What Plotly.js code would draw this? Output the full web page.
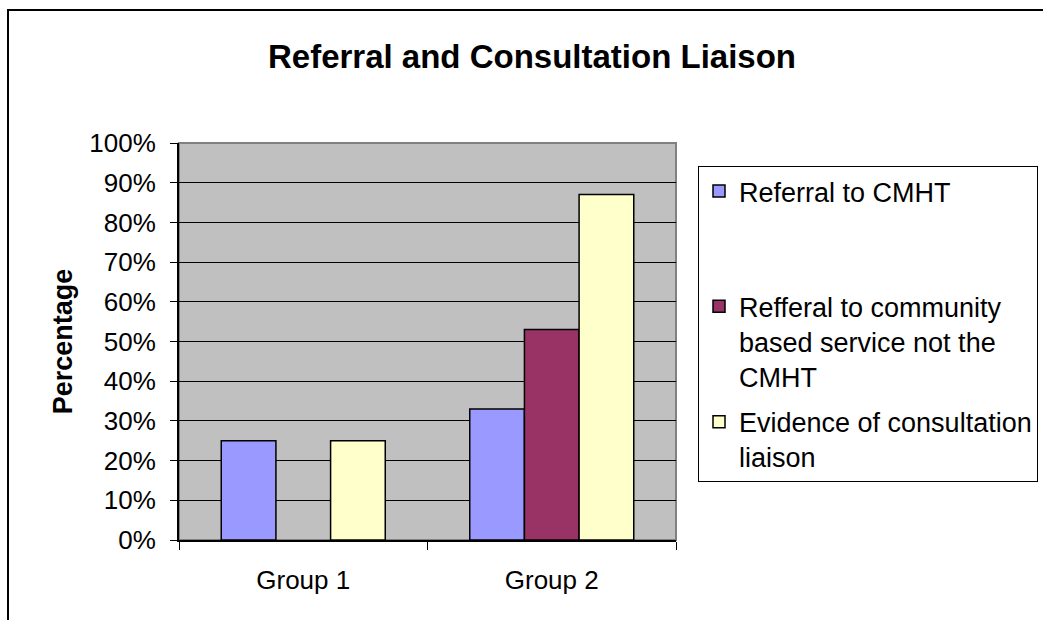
<!DOCTYPE html>
<html>
<head>
<meta charset="utf-8">
<script src="https://cdn.plot.ly/plotly-3.0.1.min.js"></script>
<style>
  html, body { margin: 0; padding: 0; background: #ffffff; }
  #chart { width: 1043px; height: 620px; }
</style>
</head>
<body>
<div id="chart"></div>
<script>
const categories = ["Group 1", "Group 2"];
const seriesNames = [
  "Referral to CMHT<br>&nbsp;<br>&nbsp;",
  "Refferal to community<br>based service not the<br>CMHT",
  "Evidence of consultation<br>liaison"
];
const referralCMHT = [25, 33];
const referralCommunity = [null, 53];
const consultationLiaison = [25, 87];
const seriesColors = ["#9999FF", "#993366", "#FFFFCC"];
const yTickValues = [0, 10, 20, 30, 40, 50, 60, 70, 80, 90, 100];
const yTickLabels = ["0%", "10%", "20%", "30%", "40%", "50%", "60%", "70%", "80%", "90%", "100%"];

const FONT = "Liberation Sans, Arial, sans-serif";
const seriesValues = [referralCMHT, referralCommunity, consultationLiaison];

const traces = seriesValues.map((vals, i) => ({
  type: "bar",
  name: seriesNames[i],
  x: categories,
  y: vals,
  legendgroup: "g" + i,
  marker: { color: seriesColors[i], line: { color: "#000000", width: 1.5 } },
  hoverinfo: "skip"
}));

const layout = {
  width: 1043,
  height: 620,
  margin: { l: 179, r: 367, t: 143, b: 80, autoexpand: false },
  paper_bgcolor: "#ffffff",
  plot_bgcolor: "#C0C0C0",
  font: { family: FONT, color: "#000000", size: 26 },
  title: {
    text: "<b>Referral and Consultation Liaison</b>",
    font: { family: FONT, size: 33, color: "#000000" },
    x: 532 / 1043, xanchor: "center", xref: "container",
    y: 1 - 56 / 620, yanchor: "middle", yref: "container"
  },
  barmode: "group",
  bargap: 0.34,
  bargroupgap: 0,
  xaxis: {
    type: "category",
    showgrid: false,
    showline: true, linecolor: "#000000", linewidth: 2,
    ticks: "outside", tickson: "boundaries", ticklen: 8, tickcolor: "#000000", tickwidth: 1,
    tickfont: { family: FONT, size: 26, color: "#000000" },
    ticklabelstandoff: 16,
    zeroline: false,
    fixedrange: true
  },
  yaxis: {
    range: [0, 100],
    tickmode: "array",
    tickvals: yTickValues,
    ticktext: yTickLabels,
    showgrid: true, gridcolor: "#000000", gridwidth: 1,
    showline: true, linecolor: "#000000", linewidth: 2,
    ticks: "outside", ticklen: 7, tickcolor: "#000000", tickwidth: 1,
    tickfont: { family: FONT, size: 26, color: "#000000" },
    ticklabelstandoff: 9,
    zeroline: false,
    fixedrange: true,
    automargin: true,
    title: { text: "<b>Percentage</b>", font: { family: FONT, size: 27, color: "#000000" }, standoff: 9 }
  },
  legend: {
    x: (698 - 179) / 497, xanchor: "left", xref: "paper",
    y: (540 - 166) / 397, yanchor: "top", yref: "paper",
    bgcolor: "#ffffff",
    bordercolor: "#000000", borderwidth: 1,
    font: { family: FONT, size: 27, color: "#000000" },
    valign: "top",
    tracegroupgap: 7,
    traceorder: "grouped"
  },
  shapes: [
    {
      type: "rect", xref: "paper", yref: "paper", layer: "below",
      x0: 0, x1: 1, y0: 0, y1: 1,
      line: { color: "#808080", width: 2 }
    },
    {
      type: "rect", xref: "paper", yref: "paper", layer: "above",
      x0: (8 - 179) / 497, x1: 3, y0: -2, y1: (540 - 10) / 397,
      line: { color: "#000000", width: 2 }
    }
  ]
};

Plotly.newPlot("chart", traces, layout, { displayModeBar: false, staticPlot: true });
</script>
</body>
</html>
